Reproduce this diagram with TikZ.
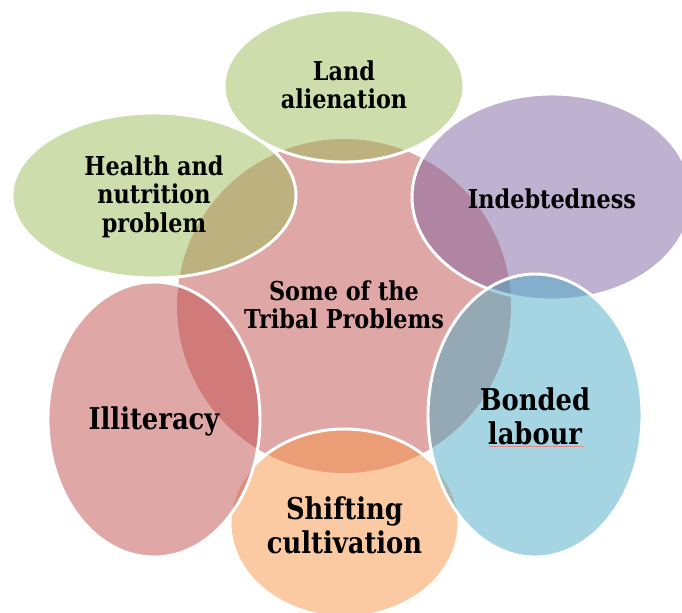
\documentclass[tikz,border=0pt]{standalone}
\usepackage{fontspec}
\setmainfont{DejaVu Serif}[FakeStretch=0.86]
\usetikzlibrary{shapes.geometric}

\definecolor{accred}{HTML}{C0504D}
\definecolor{accgreen}{HTML}{9BBB59}
\definecolor{accpurple}{HTML}{8064A2}
\definecolor{accblue}{HTML}{4BACC6}
\definecolor{accorange}{HTML}{F79646}
\definecolor{squig}{HTML}{E48A8A}

% push a label down inside its ellipse, keeping its size
\newcommand{\sinklabel}[2]{\raisebox{-#1}[\height][\depth]{#2}}

\begin{document}
\begin{tikzpicture}[x=0.75pt,y=-0.75pt,
		blob/.style={ellipse,draw=white,line width=2.2pt,fill opacity=0.5,text opacity=1,inner sep=0pt},
		small/.style={font=\bfseries\fontsize{19.5}{21.4}\selectfont},
		big/.style={font=\bfseries\fontsize{22.5}{25.5}\selectfont}]
			\path[use as bounding box,clip] (0,0) rectangle (682,613);
			\draw (344,306) node [blob,draw=none,fill=accred,minimum width=250.5pt,minimum height=250.5pt,small] (hub) {\sinklabel{2pt}{\begin{tabular}{@{}c@{}} Some of the \\ Tribal Problems \end{tabular}}};
			\draw (344,86) node [blob,fill=accgreen,minimum width=180pt,minimum height=114pt,small] (land) {\sinklabel{2pt}{\begin{tabular}{@{}c@{}} Land \\ alienation \end{tabular}}};
			\draw (552,197) node [blob,fill=accpurple,minimum width=210pt,minimum height=154.5pt,small] (debt) {\sinklabel{1.5pt}{Indebtedness}};
			\draw (344.5,523) node [blob,fill=accorange,minimum width=171.75pt,minimum height=141pt,big] (shift) {\sinklabel{5pt}{\begin{tabular}{@{}c@{}} Shifting \\ cultivation \end{tabular}}};
			\draw (535,415.5) node [blob,fill=accblue,minimum width=160.5pt,minimum height=212.25pt,big] (bond) {\sinklabel{4pt}{\begin{tabular}{@{}c@{}} Bonded \\ labour \end{tabular}}};
			\draw[squig,line width=0.6pt] ([shift={(-46,31)}]bond.center) -- ([shift={(49,31)}]bond.center);
			\draw (154,419.5) node [blob,fill=accred,minimum width=159pt,minimum height=206.25pt,big] (illit) {\sinklabel{1.5pt}{Illiteracy}};
			\draw (154,195.5) node [blob,fill=accgreen,minimum width=213pt,minimum height=123.75pt,small] (health) {\sinklabel{2pt}{\begin{tabular}{@{}c@{}} Health and \\ nutrition \\ problem \end{tabular}}};
		\end{tikzpicture}
\end{document}
